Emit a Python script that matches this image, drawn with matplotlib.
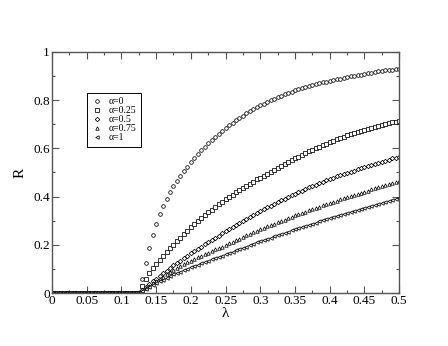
import numpy as np
import matplotlib
matplotlib.use("Agg")
import matplotlib.pyplot as plt

plt.rcParams['font.family'] = ['Liberation Serif', 'DejaVu Serif']

# lambda grid, step 0.005 from 0 to 0.5
lam = np.round(np.arange(101) * 0.005, 3)

# R = 0 below the threshold (lambda = 0 ... 0.12)
r_sub = [0.0, 0.0, 0.0, 0.0, 0.0, 0.0, 0.0, 0.0, 0.0, 0.0,
         0.0, 0.0, 0.0, 0.0, 0.0, 0.0, 0.0, 0.0, 0.0, 0.0,
         0.0, 0.0, 0.0, 0.0, 0.0]

# R for lambda = 0.125 ... 0.5
r_a0 = [0.000, 0.060, 0.125, 0.185, 0.240, 0.287, 0.328, 0.362, 0.391, 0.418,
        0.442, 0.464, 0.485, 0.505, 0.524, 0.542, 0.559, 0.576, 0.592, 0.607,
        0.621, 0.635, 0.648, 0.661, 0.673, 0.685, 0.696, 0.707, 0.717, 0.727,
        0.736, 0.745, 0.754, 0.762, 0.770, 0.778, 0.785, 0.792, 0.799, 0.806,
        0.812, 0.818, 0.824, 0.830, 0.835, 0.840, 0.845, 0.850, 0.854, 0.858,
        0.862, 0.866, 0.870, 0.874, 0.877, 0.880, 0.883, 0.886, 0.889, 0.892,
        0.895, 0.898, 0.901, 0.904, 0.906, 0.909, 0.911, 0.914, 0.916, 0.919,
        0.921, 0.923, 0.925, 0.927, 0.929, 0.931]
r_a025 = [0.000, 0.030, 0.058, 0.082, 0.102, 0.120, 0.137, 0.153, 0.169, 0.185,
          0.200, 0.215, 0.229, 0.244, 0.258, 0.272, 0.285, 0.298, 0.311, 0.323,
          0.335, 0.346, 0.357, 0.368, 0.378, 0.388, 0.398, 0.408, 0.418, 0.427,
          0.436, 0.445, 0.454, 0.462, 0.471, 0.479, 0.487, 0.495, 0.504, 0.512,
          0.520, 0.528, 0.536, 0.544, 0.551, 0.559, 0.566, 0.573, 0.580, 0.587,
          0.594, 0.601, 0.607, 0.614, 0.620, 0.626, 0.632, 0.638, 0.643, 0.649,
          0.654, 0.659, 0.664, 0.668, 0.672, 0.676, 0.680, 0.684, 0.688, 0.692,
          0.696, 0.700, 0.704, 0.708, 0.711, 0.715]
r_a05 = [0.000, 0.012, 0.024, 0.036, 0.048, 0.060, 0.071, 0.082, 0.093, 0.104,
         0.115, 0.125, 0.135, 0.145, 0.155, 0.165, 0.174, 0.184, 0.193, 0.202,
         0.211, 0.220, 0.229, 0.238, 0.247, 0.256, 0.265, 0.274, 0.283, 0.292,
         0.300, 0.308, 0.316, 0.324, 0.332, 0.340, 0.348, 0.355, 0.363, 0.370,
         0.377, 0.384, 0.391, 0.398, 0.405, 0.411, 0.418, 0.425, 0.431, 0.438,
         0.444, 0.450, 0.456, 0.462, 0.468, 0.474, 0.479, 0.484, 0.489, 0.494,
         0.499, 0.504, 0.508, 0.513, 0.518, 0.522, 0.527, 0.531, 0.536, 0.540,
         0.545, 0.549, 0.553, 0.558, 0.562, 0.566]
r_a075 = [0.000, 0.010, 0.020, 0.030, 0.040, 0.050, 0.059, 0.068, 0.077, 0.086,
          0.095, 0.103, 0.111, 0.119, 0.127, 0.135, 0.142, 0.148, 0.155, 0.161,
          0.168, 0.174, 0.181, 0.187, 0.193, 0.200, 0.206, 0.213, 0.219, 0.226,
          0.232, 0.239, 0.245, 0.252, 0.258, 0.265, 0.271, 0.277, 0.282, 0.288,
          0.294, 0.299, 0.305, 0.311, 0.316, 0.322, 0.327, 0.332, 0.338, 0.343,
          0.348, 0.353, 0.358, 0.364, 0.369, 0.374, 0.379, 0.383, 0.388, 0.393,
          0.398, 0.402, 0.407, 0.412, 0.416, 0.421, 0.425, 0.430, 0.434, 0.439,
          0.443, 0.448, 0.452, 0.456, 0.461, 0.465]
r_a1 = [0.000, 0.008, 0.016, 0.024, 0.032, 0.040, 0.048, 0.055, 0.063, 0.070,
        0.077, 0.083, 0.089, 0.095, 0.101, 0.107, 0.113, 0.118, 0.124, 0.129,
        0.135, 0.140, 0.145, 0.150, 0.155, 0.160, 0.166, 0.171, 0.177, 0.182,
        0.188, 0.193, 0.199, 0.204, 0.210, 0.215, 0.220, 0.225, 0.230, 0.235,
        0.240, 0.245, 0.250, 0.255, 0.260, 0.265, 0.270, 0.274, 0.279, 0.283,
        0.288, 0.292, 0.297, 0.301, 0.306, 0.310, 0.314, 0.319, 0.323, 0.327,
        0.331, 0.336, 0.340, 0.344, 0.348, 0.353, 0.357, 0.361, 0.365, 0.370,
        0.374, 0.378, 0.382, 0.387, 0.391, 0.395]

labels = ['α=0', 'α=0.25', 'α=0.5', 'α=0.75', 'α=1']
series = [r_a0, r_a025, r_a05, r_a075, r_a1]
markers = ['o', 's', 'D', '^', '<']
msizes = [2.6, 2.2, 2.3, 2.5, 2.5]

fig = plt.figure(figsize=(4.48, 3.46), dpi=100)
ax = fig.add_axes([0.116, 0.153, 0.775, 0.697])

for r, m, ms, lab in zip(series, markers, msizes, labels):
    ax.plot(lam, r_sub + r, linestyle='none', marker=m, markersize=ms,
            markerfacecolor='white', markeredgecolor='black',
            markeredgewidth=0.55, label=lab)

ax.set_xlim(0, 0.5)
ax.set_ylim(0, 1)
ax.set_xticks(np.arange(0, 0.501, 0.05))
ax.set_xticks(np.arange(0, 0.501, 0.025), minor=True)
ax.set_yticks(np.arange(0, 1.01, 0.2))
ax.set_yticks(np.arange(0, 1.01, 0.1), minor=True)
ax.set_xticklabels(['0', '0.05', '0.1', '0.15', '0.2', '0.25', '0.3',
                    '0.35', '0.4', '0.45', '0.5'])
ax.set_yticklabels(['0', '0.2', '0.4', '0.6', '0.8', '1'])
ax.tick_params(which='both', direction='in', top=True, right=True,
               labelsize=9.5, color='#555555', width=0.8)
ax.tick_params(which='major', length=5, pad=1.5)
ax.tick_params(which='minor', length=2.5)
for s in ax.spines.values():
    s.set_color('#555555')
    s.set_linewidth(1.0)

ax.set_xlabel('λ', fontsize=11, labelpad=0)
ax.set_ylabel('R', fontsize=11, labelpad=5)

leg = ax.legend(loc='upper left', bbox_to_anchor=(0.1, 0.83), fontsize=7,
                frameon=True, fancybox=False, framealpha=1, borderpad=0.45,
                labelspacing=0.0, handlelength=1.2, handletextpad=0.6,
                borderaxespad=0, markerscale=1.0, numpoints=1)
leg.get_frame().set_edgecolor('black')
leg.get_frame().set_linewidth(0.7)

fig.savefig('out.png', dpi=100)
